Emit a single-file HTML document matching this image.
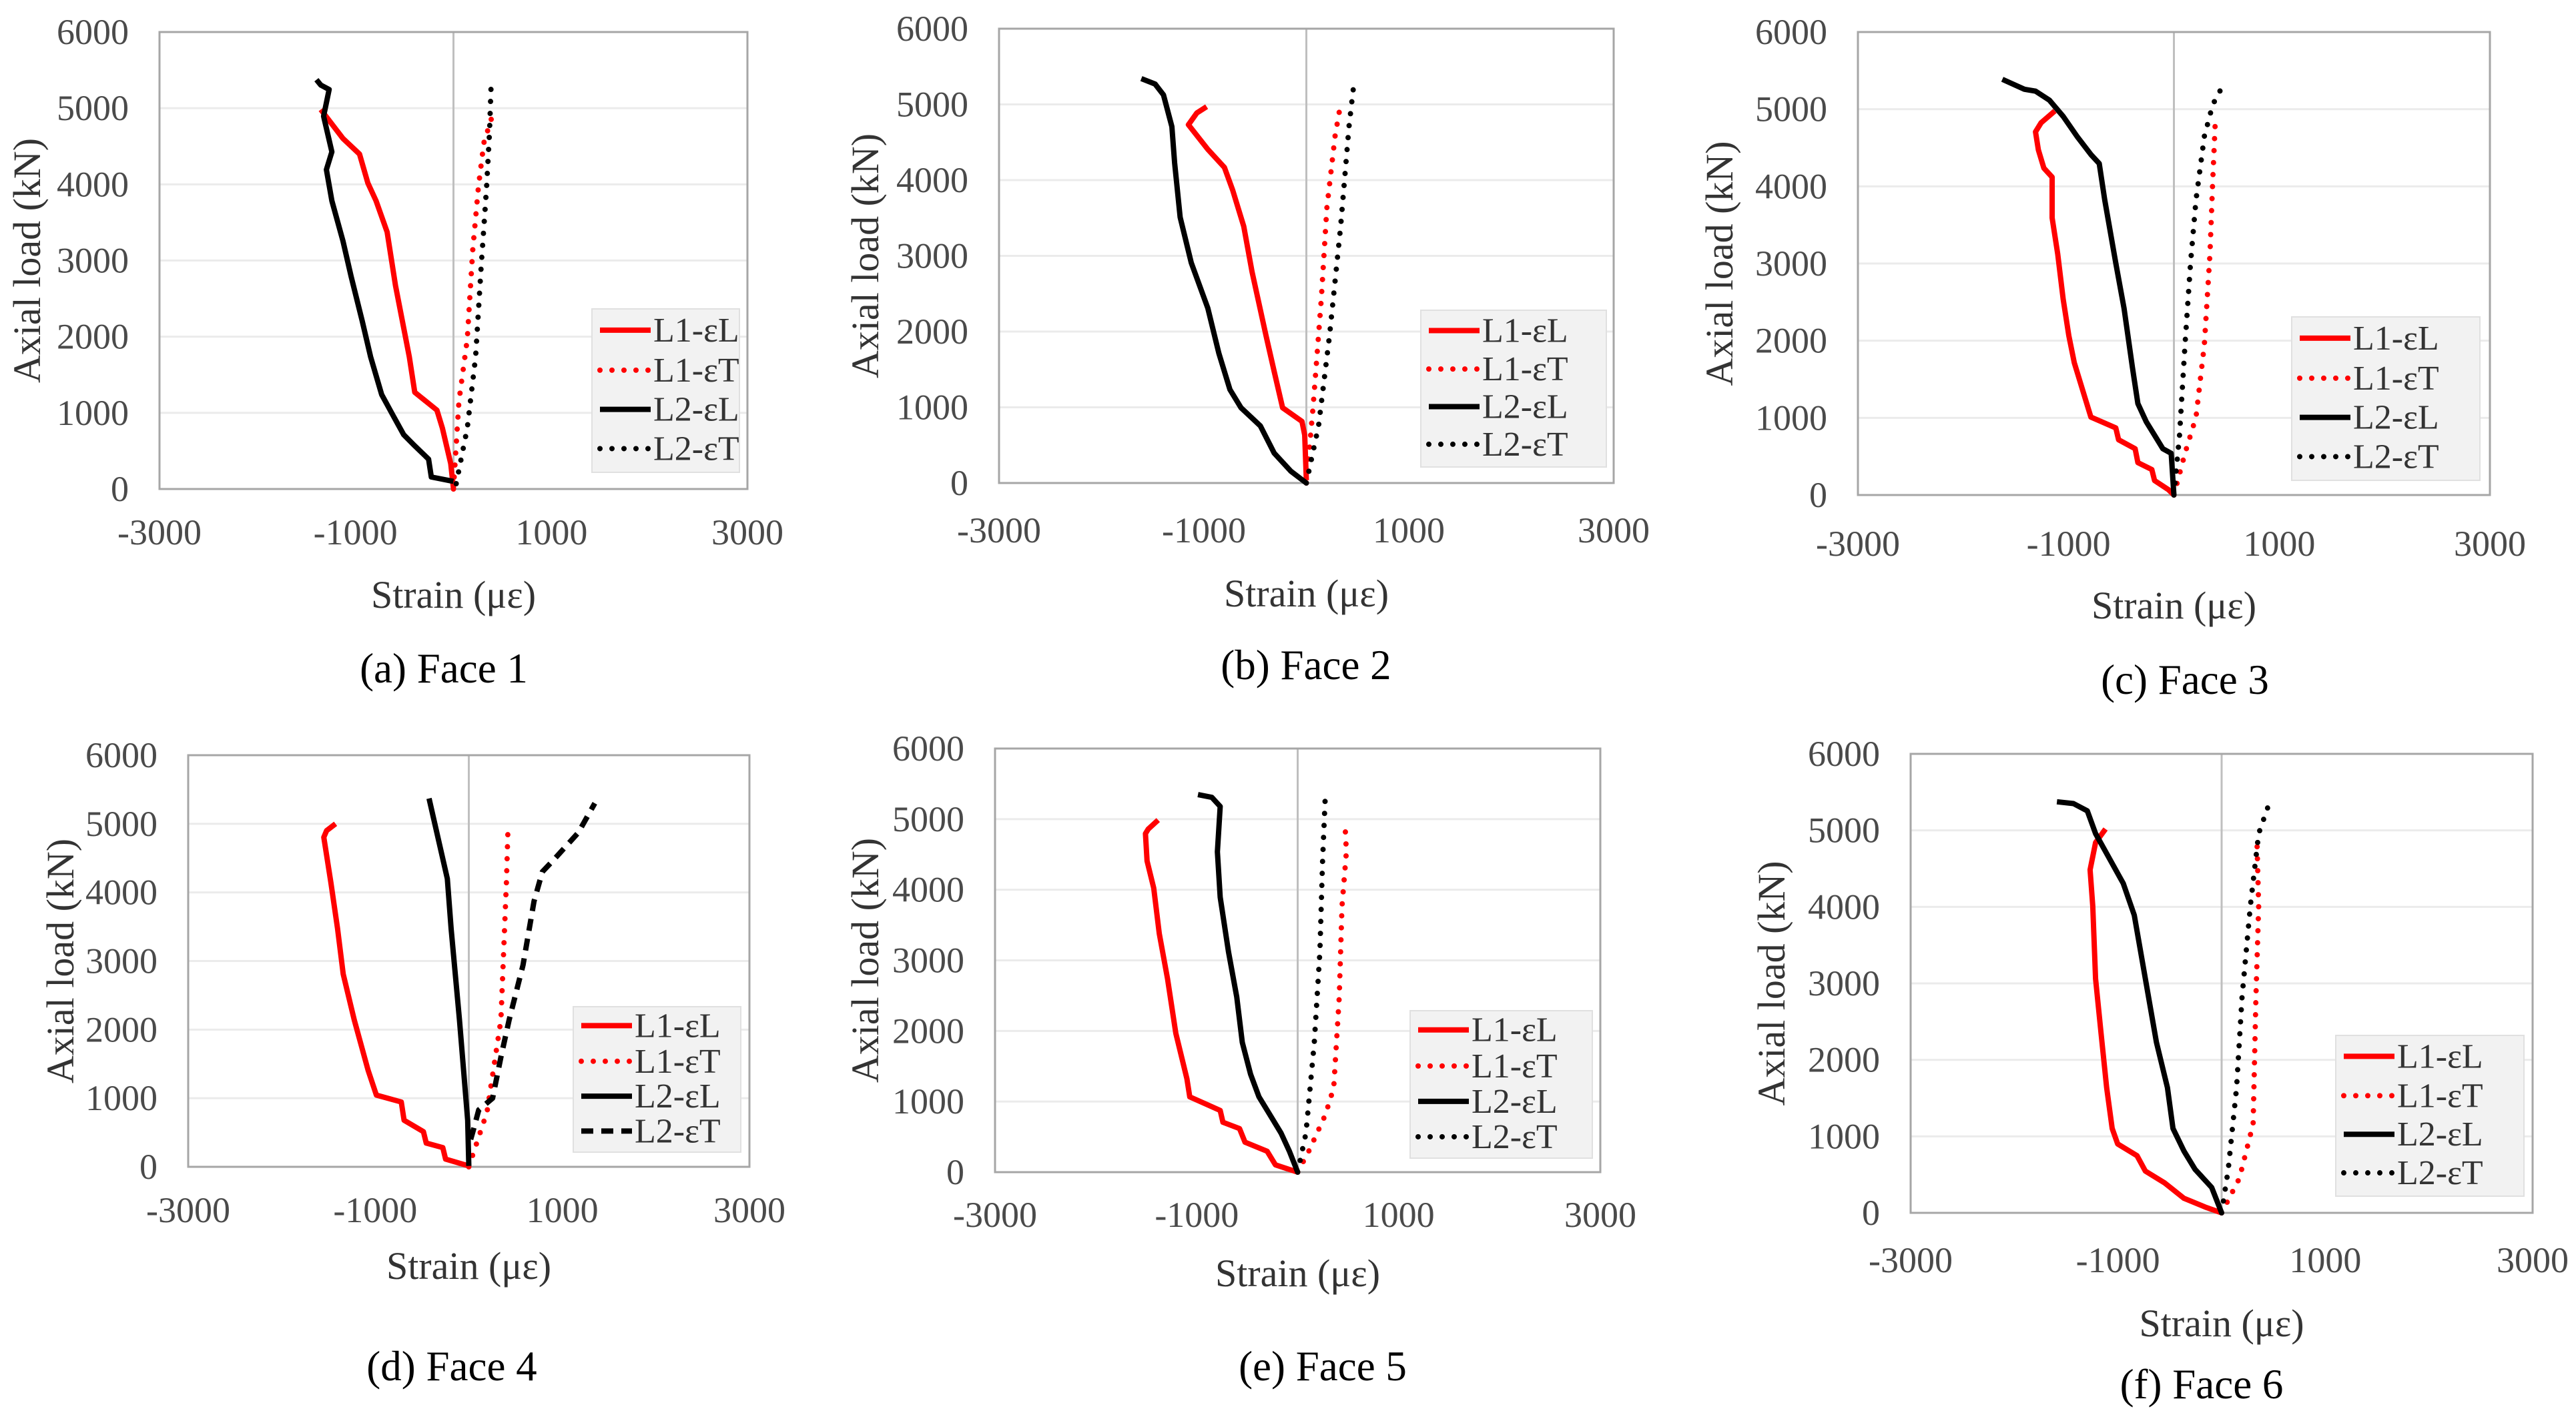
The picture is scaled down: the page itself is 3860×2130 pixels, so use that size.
<!DOCTYPE html>
<html><head><meta charset="utf-8"><style>
html,body{margin:0;padding:0;background:#fff;}
svg{display:block;font-family:"Liberation Serif",serif;}
</style></head>
<body>
<svg id="fig" xmlns="http://www.w3.org/2000/svg" width="3860" height="2130" viewBox="0 0 3860 2130"></svg>
<script>
const yTicks=[0,1000,2000,3000,4000,5000,6000];
const xTicks=[-3000,-1000,1000,3000];
const seriesNames=["L1-εL","L1-εT","L2-εL","L2-εT"];
const captions=["(a) Face 1","(b) Face 2","(c) Face 3","(d) Face 4","(e) Face 5","(f) Face 6"];
// Face 1
const a_L1L_x=[0,-28,-113,-169,-395,-451,-592,-677,-790,-874,-959,-1128,-1354];
const a_L1L_y=[10,333,800,1035,1270,1737,2672,3374,3784,4018,4398,4602,4982];
const a_L1T_x=[0,56,141,197,254,310,395,395];
const a_L1T_y=[0,1152,1970,3140,3959,4544,4895,4982];
const a_L2L_x=[0,-226,-254,-395,-508,-621,-733,-846,-931,-1044,-1128,-1241,-1297,-1241,-1325,-1269,-1354,-1398];
const a_L2L_y=[100,158,392,567,713,977,1240,1737,2205,2789,3257,3784,4193,4427,4895,5245,5304,5374];
const a_L2T_x=[28,141,226,282,338,367,384];
const a_L2T_y=[70,800,1737,2906,3959,4661,5304];
// Face 2
const b_L1L_x=[0,-16,-43,-232,-314,-395,-530,-611,-719,-800,-962,-1151,-1070,-973];
const b_L1L_y=[36,635,814,994,1473,1952,2790,3389,3868,4168,4407,4731,4886,4970];
const b_L1T_x=[0,65,146,200,281,324];
const b_L1T_y=[0,994,2431,3629,4587,4922];
const b_L2L_x=[0,-151,-314,-449,-638,-746,-854,-962,-1124,-1232,-1286,-1313,-1395,-1476,-1611];
const b_L2L_y=[0,156,395,754,994,1234,1713,2311,2910,3509,4228,4707,5126,5269,5341];
const b_L2T_x=[0,119,227,335,416,470];
const b_L2T_y=[0,754,1952,3389,4707,5341];
// Face 3
const c_L1L_x=[0,-53,-184,-210,-342,-368,-525,-552,-788,-841,-946,-998,-1051,-1103,-1156,-1156,-1235,-1287,-1314,-1261,-1130];
const c_L1L_y=[0,70,188,330,420,600,716,870,1010,1244,1714,2066,2535,3122,3592,4120,4237,4472,4707,4824,4977];
const c_L1T_x=[0,105,210,289,342,368,394];
const c_L1T_y=[0,540,1010,1948,3122,4061,4883];
const c_L2L_x=[0,-26,-105,-184,-263,-342,-394,-473,-552,-657,-709,-788,-920,-1051,-1182,-1314,-1419,-1629];
const c_L2L_y=[0,540,600,775,950,1185,1655,2418,3005,3826,4296,4413,4648,4906,5117,5234,5258,5387];
const c_L2T_x=[0,53,105,158,210,289,368,473];
const c_L2T_y=[0,775,1948,3005,3826,4648,5058,5328];
// Face 4
const d_L1L_x=[0,-248,-278,-455,-485,-692,-722,-988,-1077,-1225,-1343,-1403,-1474,-1550,-1520,-1425];
const d_L1L_y=[13,113,280,346,512,679,945,1045,1410,2142,2808,3473,4138,4804,4900,5000];
const d_L1T_x=[0,195,343,402,420];
const d_L1T_y=[0,800,2140,4138,5000];
const d_L2L_x=[0,-12,-100,-189,-230,-425];
const d_L2L_y=[13,678,2140,3470,4200,5370];
const d_L2T_x=[20,47,106,254,343,431,579,697,786,904,1170,1347];
const d_L2T_y=[400,530,830,1000,1600,2140,2940,3870,4300,4470,4870,5300];
// Face 5
const e_L1L_x=[0,-220,-302,-522,-576,-741,-768,-1070,-1098,-1208,-1290,-1372,-1427,-1493,-1509,-1482,-1383];
const e_L1L_y=[0,103,296,424,617,707,874,1067,1324,1967,2738,3380,4023,4409,4794,4859,4987];
const e_L1T_x=[0,110,274,357,412,439,483,467];
const e_L1T_y=[0,296,810,1195,2481,3766,4537,4987];
const e_L2L_x=[0,-82,-165,-274,-384,-467,-549,-604,-686,-768,-796,-768,-851,-988];
const e_L2L_y=[0,296,553,810,1067,1388,1838,2481,3123,3894,4537,5180,5308,5347];
const e_L2T_x=[0,82,165,220,247,274];
const e_L2T_y=[0,553,1838,3123,4409,5334];
// Face 6
const f_L1L_x=[0,-149,-363,-549,-736,-816,-1003,-1056,-1109,-1163,-1216,-1243,-1269,-1216,-1120];
const f_L1L_y=[0,71,190,391,546,747,901,1103,1637,2349,3060,4009,4484,4840,5018];
const f_L1T_x=[0,171,304,331,357,341];
const f_L1T_y=[0,451,1162,2823,4009,4840];
const f_L2L_x=[0,-96,-256,-363,-469,-523,-629,-736,-843,-949,-1216,-1296,-1429,-1589];
const f_L2L_y=[0,332,569,807,1103,1637,2230,3060,3891,4306,4958,5255,5350,5374];
const f_L2T_x=[0,64,144,197,277,357,464];
const f_L2T_y=[0,569,1637,2823,4009,4958,5374];

const panelData=[
 [[a_L1L_x,a_L1L_y],[a_L1T_x,a_L1T_y],[a_L2L_x,a_L2L_y],[a_L2T_x,a_L2T_y]],
 [[b_L1L_x,b_L1L_y],[b_L1T_x,b_L1T_y],[b_L2L_x,b_L2L_y],[b_L2T_x,b_L2T_y]],
 [[c_L1L_x,c_L1L_y],[c_L1T_x,c_L1T_y],[c_L2L_x,c_L2L_y],[c_L2T_x,c_L2T_y]],
 [[d_L1L_x,d_L1L_y],[d_L1T_x,d_L1T_y],[d_L2L_x,d_L2L_y],[d_L2T_x,d_L2T_y]],
 [[e_L1L_x,e_L1L_y],[e_L1T_x,e_L1T_y],[e_L2L_x,e_L2L_y],[e_L2T_x,e_L2T_y]],
 [[f_L1L_x,f_L1L_y],[f_L1T_x,f_L1T_y],[f_L2L_x,f_L2L_y],[f_L2T_x,f_L2T_y]]
];
const layout=[
 {l:239,t:48,r:1120,b:733,xt:65,xl:159,yl:198,leg:[887,463,1108,708],cap:[665,1002]},
 {l:1497,t:43,r:2418,b:724,xt:71,xl:166,yl:200,leg:[2129,465,2407,700],cap:[1957,997]},
 {l:2784,t:48,r:3731,b:742,xt:73,xl:166,yl:207,leg:[3434,475,3716,720],cap:[3274,1019]},
 {l:282,t:1132,r:1123,b:1749,xt:65,xl:149,yl:191,leg:[859,1509,1110,1727],cap:[677,2048]},
 {l:1491,t:1122,r:2398,b:1757,xt:64,xl:152,yl:194,leg:[2113,1515,2386,1736],cap:[1982,2048]},
 {l:2863,t:1130,r:3795,b:1818,xt:71,xl:166,yl:208,leg:[3500,1552,3782,1793],cap:[3299,2075]}
];
const styles=[
 {c:"#ff0000",d:null},{c:"#ff0000",d:"0 18"},{c:"#000000",d:null},{c:"#000000",d:"0 18"}
];
const svg=document.getElementById('fig');
const NS="http://www.w3.org/2000/svg";
function mk(tag,attrs,parent){const e=document.createElementNS(NS,tag);for(const k in attrs)e.setAttribute(k,attrs[k]);(parent||svg).appendChild(e);return e;}

layout.forEach((L,pi)=>{
 const g=mk('g',{});
 
 
 const sx=v=>L.l+(v+3000)/6000*(L.r-L.l);
 const sy=v=>L.b-v/6000*(L.b-L.t);
 yTicks.forEach(v=>{
  if(v>0&&v<6000){const gl=mk('line',{x1:L.l,x2:L.r,y1:sy(v),y2:sy(v),stroke:"#ebebeb","stroke-width":3},g);
  
  }
  const t=mk('text',{x:L.l-46,y:sy(v)+18,"text-anchor":"end","font-size":54,fill:"#4a4a4a"},g);
  t.textContent=v;
  
  
 });
 xTicks.forEach(v=>{
  const t=mk('text',{x:sx(v),y:L.b+L.xt+18,"text-anchor":"middle","font-size":54,fill:"#4a4a4a"},g);
  t.textContent=v;
  
  
 });
 const z=mk('line',{x1:sx(0),x2:sx(0),y1:L.t,y2:L.b,stroke:"#bfbfbf","stroke-width":3},g);
 
 
 const box=mk('rect',{x:L.l,y:L.t,width:L.r-L.l,height:L.b-L.t,fill:"none",stroke:"#a6a6a6","stroke-width":3},g);
 
 
 panelData[pi].forEach((s,si)=>{
  const pts=s[0].map((x,i)=>sx(x).toFixed(1)+","+sy(s[1][i]).toFixed(1)).join(" ");
  const st=styles[si];
  let dash=st.d;
  if(pi===3&&si===3)dash="18 12";
  const a={points:pts,fill:"none",stroke:st.c,"stroke-width":8,"stroke-linejoin":"round"};
  if(dash){a["stroke-dasharray"]=dash;a["stroke-linecap"]=(pi===3&&si===3)?"butt":"round";}
  const p=mk('polyline',a,g);
  
  
 });
 const [x0,y0,x1,y1]=L.leg;
 const lg=mk('g',{},g);
 
 
 mk('rect',{x:x0,y:y0,width:x1-x0,height:y1-y0,fill:"#f2f2f2",stroke:"#e0e0e0","stroke-width":2},lg);
 const fr=[0.13,0.375,0.615,0.855];
 seriesNames.forEach((n,si)=>{
  const cy=y0+(y1-y0)*fr[si];
  const st=styles[si];
  let dash=st.d; if(pi===3&&si===3)dash="18 12";
  const la={x1:x0+12,x2:x0+88,y1:cy,y2:cy,stroke:st.c,"stroke-width":8};
  if(dash){la["stroke-dasharray"]=dash;la["stroke-linecap"]=(pi===3&&si===3)?"butt":"round";}
  const ln=mk('line',la,lg);
  
  
  const t=mk('text',{x:x0+92,y:cy+17,"font-size":52,fill:"#333"},lg);
  t.textContent=n;
  
  
 });
 const xt=mk('text',{x:(L.l+L.r)/2,y:L.b+L.xl+19,"text-anchor":"middle","font-size":58,fill:"#333"},g);
 xt.textContent="Strain (με)";
 
 
 const yx=L.l-L.yl, yy=(L.t+L.b)/2;
 const yt=mk('text',{x:yx,y:yy,"text-anchor":"middle","font-size":58,fill:"#333",transform:`rotate(-90 ${yx} ${yy}) translate(0 19)`},g);
 yt.textContent="Axial load (kN)";
 
 
 const cp=mk('text',{x:L.cap[0],y:L.cap[1]+21,"text-anchor":"middle","font-size":63,fill:"#000"},g);
 cp.textContent=captions[pi];
 
 
});
</script>
</body></html>
